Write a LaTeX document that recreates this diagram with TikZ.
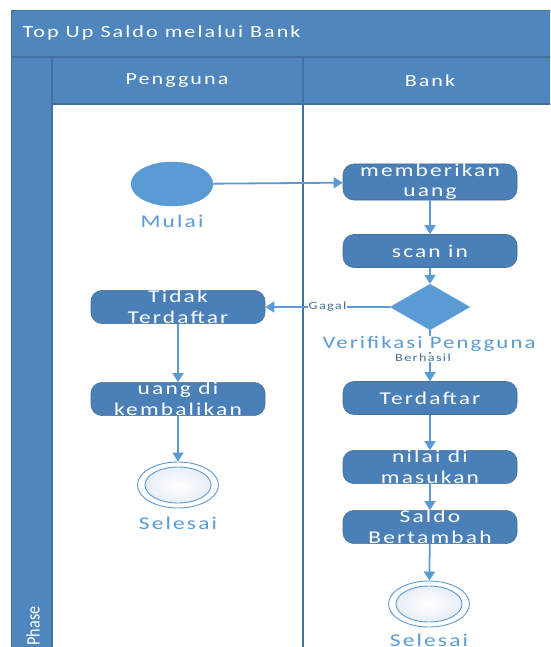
\documentclass[tikz,border=0pt]{standalone}
\usepackage{fontspec}
\setmainfont{Carlito}[FakeStretch=1.3,LetterSpace=12]
\usetikzlibrary{arrows.meta,shapes.geometric}
\definecolor{hdr}{HTML}{4F86BD}
\definecolor{hdrline}{HTML}{41719C}
\definecolor{act}{HTML}{4A7FB8}
\definecolor{lite}{HTML}{5B9BD5}
\definecolor{endfill}{HTML}{E8EEF7}
\tikzset{
  stepbox/.style={rectangle, rounded corners=11pt, draw=hdrline, line width=0.6pt,
    fill=act, text=white, minimum width=174pt, minimum height=33pt,
    align=center, font=\fontsize{18}{20.5}\selectfont, inner sep=0pt},
  startnode/.style={ellipse, fill=lite, draw=lite, minimum width=82pt, minimum height=44pt, inner sep=0pt},
  endnode/.style={ellipse, draw=lite, line width=0.9pt, fill=white,
    minimum width=81pt, minimum height=46pt, inner sep=0pt},
  endinner/.style={ellipse, draw=lite, line width=0.9pt, inner color=white, outer color=endfill,
    minimum width=66pt, minimum height=36pt, inner sep=0pt},
  decision/.style={diamond, fill=lite, draw=lite!80!white, minimum width=80pt, minimum height=46pt, inner sep=0pt},
  caption/.style={text=lite, fill=white, inner sep=1pt, font=\fontsize{18}{18}\selectfont},
  small/.style={text=hdrline, fill=white, inner sep=1pt, font=\fontsize{11}{11}\selectfont},
  flow/.style={draw=lite, line width=1.8pt, -{Triangle[width=11pt,length=9pt]}},
  lanehead/.style={text=white, font=\fontsize{17}{17}\selectfont}
}
\begin{document}
\begin{tikzpicture}[x=1pt,y=-1pt]
\useasboundingbox (0,0) rectangle (550,647);
\clip (0,0) rectangle (550,647);
% pool frame and headers
\fill[white] (0,0) rectangle (550,647);
\fill[hdr] (11,10) rectangle (560,104);
\fill[hdr] (11,104) rectangle (52,660);
\draw[hdrline, line width=0.8pt] (11,10) rectangle (560,660);
\draw[hdrline, line width=1.2pt] (11,57) -- (560,57);
\draw[hdrline, line width=1.2pt] (52,57) -- (52,660);
\draw[hdrline, line width=1.2pt] (52,104) -- (560,104);
\draw[hdrline, line width=2pt] (303,57) -- (303,660);
\node[lanehead, anchor=west] (title) at (19,33) {Top Up Saldo melalui Bank};
\node[lanehead] (lane1) at (177,81) {Pengguna};
\node[lanehead] (lane2) at (430,81) {Bank};
\node[text=white, rotate=90, anchor=west, font=\fontsize{19}{19}\selectfont\addfontfeatures{FakeStretch=0.85,LetterSpace=0}] (phase) at (33,649) {Phase};

% nodes
\node[startnode] (start) at (172,184) {};
\node[stepbox] (give) at (430,182) {memberikan\\uang};
\node[stepbox] (scan) at (430,251) {scan in};
\node[decision] (check) at (430,307) {};
\node[stepbox] (notreg) at (178,307) {Tidak\\Terdaftar};
\node[stepbox] (refund) at (178,399) {uang di\\kembalikan};
\node[endnode] (end1) at (178,485) {};
\node[endinner] (end1i) at (178,485) {};
\node[stepbox] (reg) at (430,398) {Terdaftar};
\node[stepbox] (input) at (430,467) {nilai di\\masukan};
\node[stepbox] (saldo) at (430,527) {Saldo\\Bertambah};
\node[endnode] (end2) at (429,604) {};
\node[endinner] (end2i) at (429,604) {};

% connectors
\draw[flow] (start) -- (give);
\draw[flow] (give) -- (scan);
\draw[flow] (scan) -- (check);
\draw[flow] (check) -- node[small, pos=0.5] (fail) {Gagal} (notreg);
\draw[flow] (check) -- (reg);
\draw[flow] (notreg) -- (refund);
\draw[flow] (refund) -- (end1);
\draw[flow] (reg) -- (input);
\draw[flow] (input) -- (saldo);
\draw[flow] (saldo) -- (end2);

% labels
\node[caption, fill=none] (startlbl) at (172,221) {Mulai};
\node[caption, inner sep=0pt, font=\fontsize{17.5}{17.5}\selectfont] (checklbl) at (429,344) {Verifikasi Pengguna};
\node[small, inner sep=0.5pt] (ok) at (423,358) {Berhasil};
\node[caption, fill=none] (end1lbl) at (178,523) {Selesai};
\node[caption, fill=none] (end2lbl) at (429,640) {Selesai};
\end{tikzpicture}
\end{document}
